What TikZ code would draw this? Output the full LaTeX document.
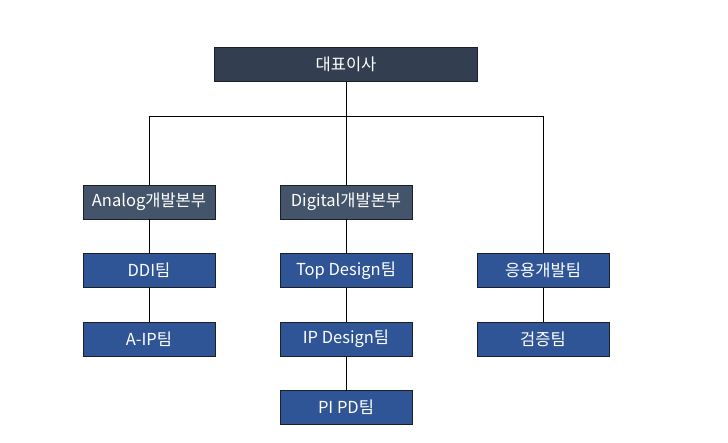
\documentclass[tikz,border=0pt]{standalone}
\usepackage{fontspec}
\newfontfamily\krfont{Noto Sans CJK KR}
\definecolor{orgceo}{HTML}{333F50}
\definecolor{orgdiv}{HTML}{44546A}
\definecolor{orgteam}{HTML}{2F5597}
\definecolor{orgedge}{HTML}{1A1F28}
\usepackage{tikz}
\usetikzlibrary{positioning,calc}

\tikzset{
  orgbox/.style={draw=orgedge, line width=0.6pt, text=white, font=\krfont\fontsize{16.5}{18}\selectfont,
    minimum height=34pt, inner sep=0pt, outer sep=0pt},
  ceobox/.style={orgbox, fill=orgceo, minimum width=263pt},
  divbox/.style={orgbox, fill=orgdiv, minimum width=132pt},
  teambox/.style={orgbox, fill=orgteam, minimum width=132pt},
  link/.style={draw=black, line width=0.9pt}
}

\begin{document}
\begin{tikzpicture}[x=1pt, y=-1pt, node distance=34.5pt]
  \useasboundingbox (0,0) rectangle (728,442);

  % top
  \node[ceobox] (ceo) at (346,64.5) {대표이사};

  % divisions
  \node[divbox] (analog) at (149,202) {Analog개발본부};
  \node[divbox] (digital) at (346,202) {Digital개발본부};

  % teams
  \node[teambox, below=of analog] (ddi) {DDI팀};
  \node[teambox, below=of ddi] (aip) {A-IP팀};
  \node[teambox, below=of digital] (topd) {Top Design팀};
  \node[teambox, below=of topd] (ipd) {IP Design팀};
  \node[teambox, below=of ipd] (pipd) {PI PD팀};
  \node[teambox] (apply) at (543,270.5) {응용개발팀};
  \node[teambox, below=of apply] (verify) {검증팀};

  % connectors
  \coordinate (bus) at ($(ceo.south)+(0,35)$);
  \draw[link] (ceo.south) -- (digital.north);
  \draw[link] (analog.north) |- (bus) -| (apply.north);
  \draw[link] (analog) -- (ddi);
  \draw[link] (ddi) -- (aip);
  \draw[link] (digital) -- (topd);
  \draw[link] (topd) -- (ipd);
  \draw[link] (ipd) -- (pipd);
  \draw[link] (apply) -- (verify);
\end{tikzpicture}
\end{document}
